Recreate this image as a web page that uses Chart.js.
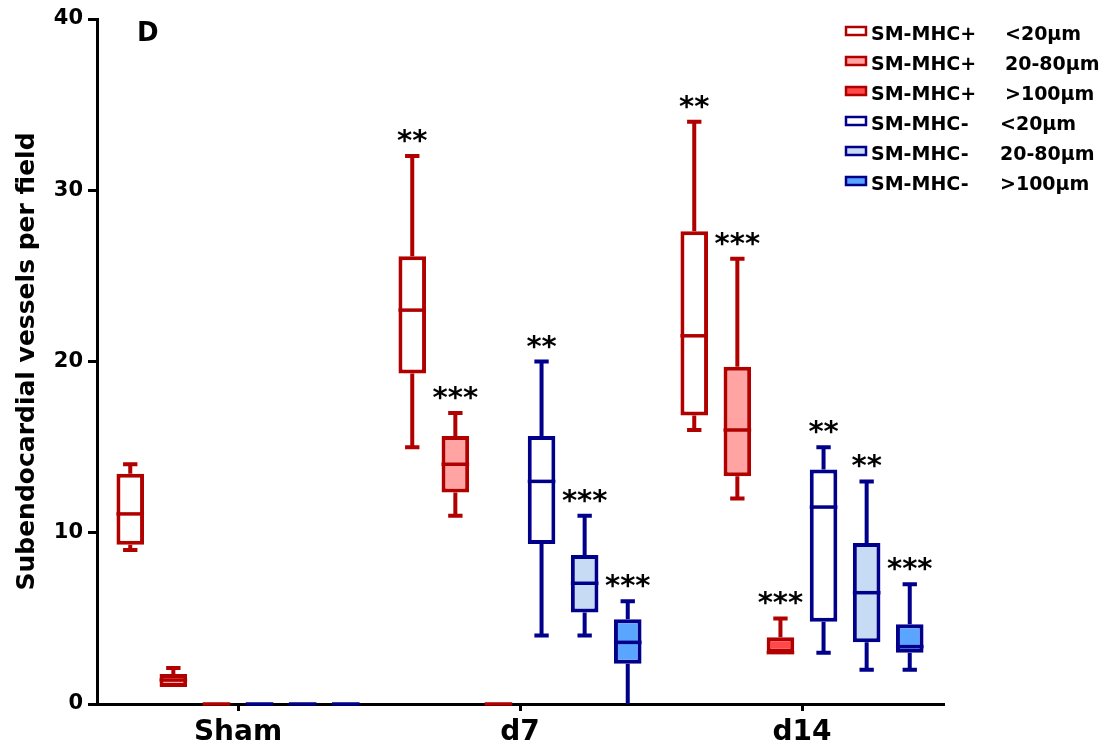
<!DOCTYPE html>
<html>
<head>
<meta charset="utf-8">
<title>Subendocardial vessels per field</title>
<script src="https://cdn.jsdelivr.net/npm/chart.js@4.4.1/dist/chart.umd.min.js"></script>
<style>
    html, body { margin: 0; padding: 0; background: #fff; }
</style>
</head>
<body>
<canvas id="vessel-chart" width="1105" height="747"></canvas>
<script>
// --- DATA ---
const categories = ['Sham', 'd7', 'd14'];

// tiap baris: [min, q1, median, q3, max] untuk Sham, d7, d14
const plusUnder20 = [[9, 9.3, 11.1, 13.45, 14], [15, 19.3, 23, 26.15, 32], [16, 16.85, 21.5, 27.6, 34]];
const plus20to80 = [[1, 1, 1.4, 1.75, 2.1], [11, 12.35, 14, 15.65, 17], [12, 13.3, 16, 19.7, 26]];
const plusOver100 = [[0, 0, 0, 0, 0], [0, 0, 0, 0, 0], [3, 3, 3, 3.9, 5]];
const minusUnder20 = [[0, 0, 0, 0, 0], [4, 9.35, 13, 15.65, 20], [3, 4.8, 11.5, 13.7, 15]];
const minus20to80 = [[0, 0, 0, 0, 0], [4, 5.35, 7.05, 8.7, 11], [2, 3.6, 6.5, 9.4, 13]];
const minusOver100 = [[0, 0, 0, 0, 0], [0, 2.35, 3.6, 4.95, 6], [2, 3, 3.35, 4.65, 7]];

const significance = [
    ['', '**', '**'],
    ['', '***', '***'],
    ['', '', '***'],
    ['', '**', '**'],
    ['', '***', '**'],
    ['', '***', '***'],
];

const seriesNames = ['SM-MHC+', 'SM-MHC+', 'SM-MHC+', 'SM-MHC-', 'SM-MHC-', 'SM-MHC-'];
const seriesSizes = ['<20\u03bcm', '20-80\u03bcm', '>100\u03bcm', '<20\u03bcm', '20-80\u03bcm', '>100\u03bcm'];
const yTicks = [0, 10, 20, 30, 40];

// --- STYLE ---
const FONT = 'DejaVu Sans';
const RED = '#b00000';
const NAVY = '#00008b';
const seriesStyles = [
    { border: RED, fill: '#ffffff' },
    { border: RED, fill: '#ffa3a3' },
    { border: RED, fill: '#ff4848' },
    { border: NAVY, fill: '#ffffff' },
    { border: NAVY, fill: '#c8dbf5' },
    { border: NAVY, fill: '#5aa5ff' },
];

const boxData = [plusUnder20, plus20to80, plusOver100, minusUnder20, minus20to80, minusOver100];

const datasets = boxData.map((rows, i) => ({
    label: seriesNames[i] + '   ' + seriesSizes[i],
    data: rows.map(r => [r[1], r[3]]),
    stats: rows,
    stars: significance[i],
    backgroundColor: seriesStyles[i].fill,
    borderColor: seriesStyles[i].border,
    borderWidth: 4,
    borderSkipped: false,
    categoryPercentage: 0.917,
    barPercentage: 0.64,
}));

// --- PLUGINS ---

// kumis, median dan tanda bintang
const whiskerPlugin = {
    id: 'whiskers',
    afterDatasetsDraw(chart) {
        const { ctx } = chart;
        const y = chart.scales.y;
        chart.data.datasets.forEach((ds, di) => {
            const meta = chart.getDatasetMeta(di);
            meta.data.forEach((bar, i) => {
                const [mn, q1, md, q3, mx] = ds.stats[i];
                const x = bar.x;
                const half = bar.width / 2;
                const cap = bar.width * 0.26;
                ctx.save();
                ctx.strokeStyle = ds.borderColor;
                ctx.lineWidth = 4;
                ctx.beginPath();
                if (mx > q3) {
                    ctx.moveTo(x, y.getPixelForValue(q3));
                    ctx.lineTo(x, y.getPixelForValue(mx));
                    ctx.moveTo(x - cap, y.getPixelForValue(mx));
                    ctx.lineTo(x + cap, y.getPixelForValue(mx));
                }
                if (mn < q1) {
                    ctx.moveTo(x, y.getPixelForValue(q1));
                    ctx.lineTo(x, y.getPixelForValue(mn));
                    if (mn > 0) {
                        ctx.moveTo(x - cap, y.getPixelForValue(mn));
                        ctx.lineTo(x + cap, y.getPixelForValue(mn));
                    }
                }
                ctx.stroke();
                ctx.lineWidth = 3.5;
                ctx.beginPath();
                ctx.moveTo(x - half, y.getPixelForValue(md));
                ctx.lineTo(x + half, y.getPixelForValue(md));
                ctx.stroke();

                if (ds.stars[i]) {
                    ctx.fillStyle = '#000';
                    ctx.font = `bold 29px "${FONT}"`;
                    ctx.textAlign = 'center';
                    ctx.textBaseline = 'alphabetic';
                    ctx.fillText(ds.stars[i], x, y.getPixelForValue(mx) - 6);
                }
                ctx.restore();
            });
        });
    },
    afterDraw(chart) {
        const { ctx, chartArea } = chart;
        ctx.save();
        // huruf panel
        ctx.fillStyle = '#000';
        ctx.font = `bold 26px "${FONT}"`;
        ctx.textAlign = 'left';
        ctx.textBaseline = 'alphabetic';
        ctx.fillText('D', chartArea.left + 40, chartArea.top + 22);

        // legenda
        chart.data.datasets.forEach((ds, i) => {
            const rowY = chartArea.top + 21 + i * 30;
            ctx.fillStyle = ds.backgroundColor;
            ctx.strokeStyle = ds.borderColor;
            ctx.lineWidth = 2.5;
            ctx.fillRect(846, rowY - 13, 20, 8);
            ctx.strokeRect(846, rowY - 13, 20, 8);
            ctx.fillStyle = '#000';
            ctx.font = `bold 19px "${FONT}"`;
            ctx.fillText(seriesNames[i], 871, rowY);
            ctx.fillText(seriesSizes[i], i < 3 ? 1005 : 1000, rowY);
        });
        ctx.restore();
    }
};

// --- CHART ---
const ctx = document.getElementById('vessel-chart').getContext('2d');
new Chart(ctx, {
    type: 'bar',
    data: { labels: categories, datasets },
    plugins: [whiskerPlugin],
    options: {
        responsive: false,
        animation: false,
        devicePixelRatio: 1,
        layout: { padding: { top: 19, right: 162, left: 0, bottom: 0 } },
        plugins: {
            legend: { display: false },
            tooltip: { enabled: false },
        },
        scales: {
            x: {
                grid: { offset: false, drawOnChartArea: false, tickLength: 7, color: '#000', lineWidth: 3 },
                border: { color: '#000', width: 3 },
                ticks: { color: '#000', font: { family: FONT, size: 28, weight: 'bold' }, padding: 5 },
                afterFit: s => { s.height = 43; },
            },
            y: {
                min: 0,
                max: 40,
                afterBuildTicks: s => { s.ticks = yTicks.map(v => ({ value: v })); },
                grid: { drawOnChartArea: false, tickLength: 9, color: '#000', lineWidth: 3 },
                border: { color: '#000', width: 3 },
                ticks: { color: '#000', font: { family: FONT, size: 21, weight: 'bold' }, padding: 5 },
                title: {
                    display: true,
                    text: 'Subendocardial vessels per field',
                    color: '#000',
                    font: { family: FONT, size: 25, weight: 'bold' },
                    padding: { top: 12, bottom: 0 },
                },
                afterFit: s => { s.width = 97; },
            },
        },
    },
});
</script>
</body>
</html>
